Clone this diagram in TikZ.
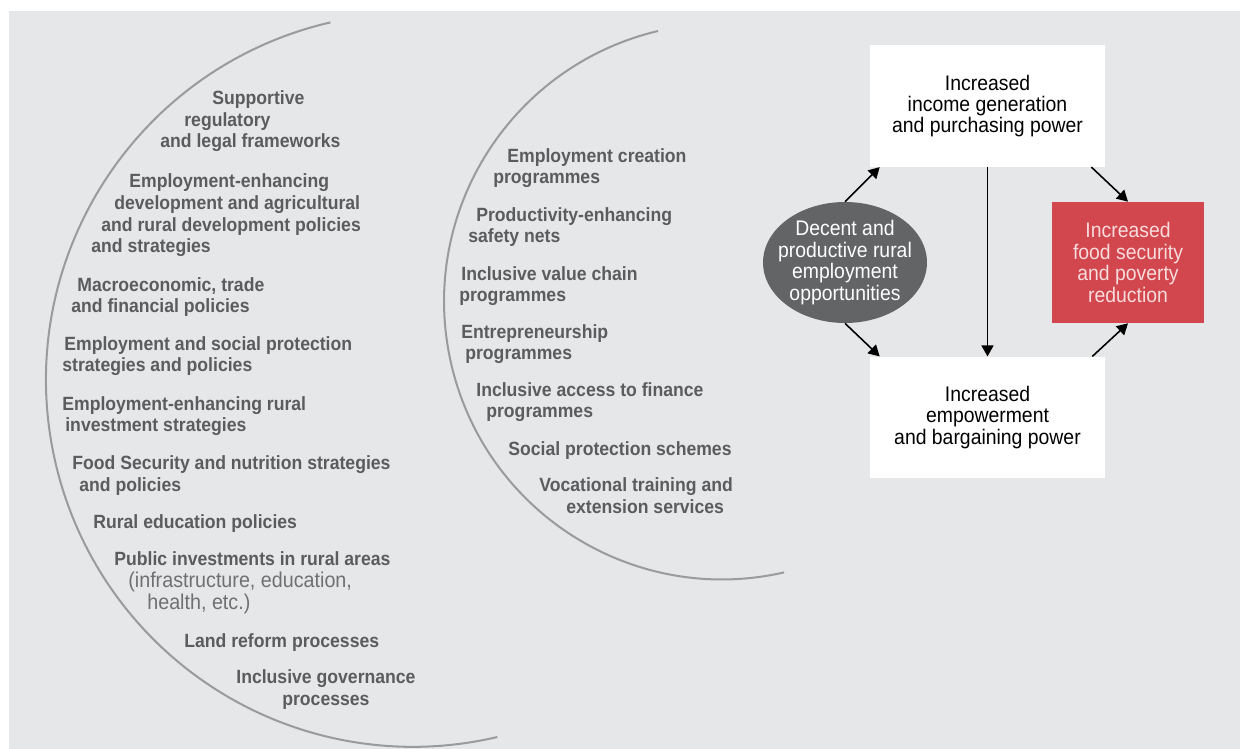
\documentclass[tikz,border=0pt]{standalone}
\usepackage{fontspec}
\setmainfont[FakeStretch=0.92]{Liberation Sans}
\usetikzlibrary{shapes.geometric,arrows.meta}
\definecolor{panel}{HTML}{E6E7E8}
\definecolor{arcgrey}{HTML}{9A9B9D}
\definecolor{itemgrey}{HTML}{5B5C5E}
\definecolor{notegrey}{HTML}{6F7072}
\definecolor{ovalgrey}{HTML}{636466}
\definecolor{foodred}{HTML}{D2464E}
\definecolor{redtext}{HTML}{F7DCDD}
\newlength\pxu
\setlength\pxu{0.02cm}
\newcommand\notefont{\mdseries\color{notegrey}\fontsize{12.2}{12.5}\selectfont}

\begin{document}
\begin{tikzpicture}[x=0.02cm, y=-0.02cm,
    % base of a multi-line item = baseline of its last line
    item/.style={anchor=base west, inner sep=0pt, align=left, text=itemgrey,
                 font=\fontsize{10.9}{12.5}\selectfont\bfseries},
    prog/.style={item, font=\fontsize{10.9}{12}\selectfont\bfseries},
    box/.style={rectangle, fill=white, inner sep=0pt, align=center,
                minimum width=4.7cm, minimum height=2.43cm,
                font=\fontsize{12}{12.2}\selectfont},
    arcline/.style={draw=arcgrey, line width=1.15pt},
    arr/.style={-{Triangle[length=0.22cm,width=0.24cm]}, line width=0.9pt}]
\useasboundingbox (0,0) rectangle (1240,749);
\fill[panel] (9,11) rectangle (1240,749);
%% the two half rings
\draw[arcline] (330.4,22.4) arc[start angle=103, end angle=283.3, radius=7.34cm];
\draw[arcline] (658.1,31) arc[start angle=103.3, end angle=282.9, radius=5.56cm];
%% outer ring: policies
\node[item] (legal) at (160,148) {\hspace*{52\pxu}Supportive\\
    \hspace*{24\pxu}regulatory\\ and legal frameworks};
\node[item] (agri) at (91,253) {\hspace*{38\pxu}Employment-enhancing\\
    \hspace*{23\pxu}development and agricultural\\
    \hspace*{10\pxu}and rural development policies\\ and strategies};
\node[item] (macro) at (71,313) {\hspace*{6\pxu}Macroeconomic, trade\\ and financial policies};
\node[item] (social) at (62,372) {\hspace*{2\pxu}Employment and social protection\\ strategies and policies};
\node[item] (invest) at (62,432) {Employment-enhancing rural\\ \hspace*{3\pxu}investment strategies};
\node[item] (food) at (72,491) {Food Security and nutrition strategies\\ \hspace*{7\pxu}and policies};
\node[item] (educ) at (93,528) {Rural education policies};
\node[item] (public) at (114,609) {Public investments in rural areas\\
    {\notefont\hspace*{14\pxu}(infrastructure, education,}\\
    {\notefont\hspace*{33\pxu}health, etc.)}};
\node[item] (land) at (184,647) {Land reform processes};
\node[item] (gov) at (236,705) {Inclusive governance\\ \hspace*{46\pxu}processes};
%% inner ring: programmes
\node[prog] (creation) at (493,184) {\hspace*{14\pxu}Employment creation\\ programmes};
\node[prog] (safety) at (468,243) {\hspace*{8\pxu}Productivity-enhancing\\ safety nets};
\node[prog] (chain) at (459,302) {\hspace*{2\pxu}Inclusive value chain\\ programmes};
\node[prog] (entre) at (461,360) {Entrepreneurship\\ \hspace*{4\pxu}programmes};
\node[prog] (finance) at (476,418) {Inclusive access to finance\\ \hspace*{10\pxu}programmes};
\node[prog] (schemes) at (508,456) {Social protection schemes};
\node[prog] (training) at (539,513) {Vocational training and\\ \hspace*{27\pxu}extension services};
%% outcomes
\node[box] (income) at (987.5,106) {Increased\\ income generation\\ and purchasing power};
\node[box] (power) at (987.5,417.5) {Increased\\ empowerment\\ and bargaining power};
\node[box, ellipse, fill=ovalgrey, text=white, minimum width=3.28cm,
      minimum height=2.42cm, inner xsep=-0.24cm] (decent) at (845,262.5)
      {Decent and\\ productive rural\\ employment\\ opportunities};
\node[box, fill=foodred, text=redtext, minimum width=3.04cm,
      minimum height=2.42cm] (goal) at (1128,262.5)
      {Increased\\ food security\\ and poverty\\ reduction};
\draw[arr] (decent.north) -- ([xshift=0.2cm]income.south west);
\draw[arr] (decent.south) -- ([xshift=0.2cm]power.north west);
\draw[arr] (income.south) -- (power.north);
\draw[arr] ([xshift=-0.28cm]income.south east) -- (goal.north);
\draw[arr] ([xshift=-0.26cm]power.north east) -- (goal.south);
\end{tikzpicture}
\end{document}
